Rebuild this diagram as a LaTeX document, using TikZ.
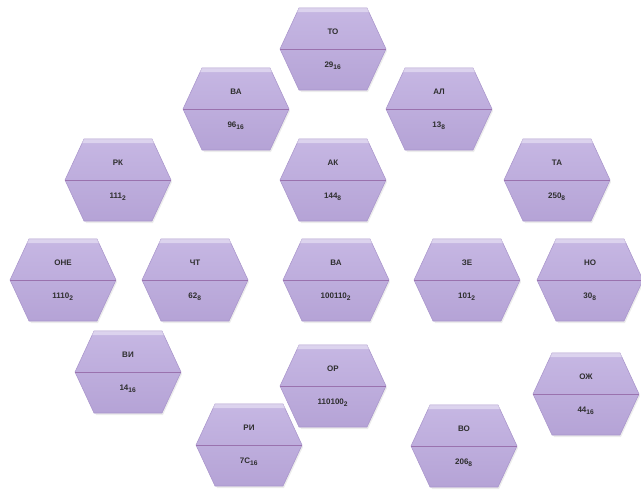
\documentclass[tikz,border=0pt]{standalone}
\usepackage{fontspec}
\setmainfont{Liberation Sans}
\usetikzlibrary{calc}
\definecolor{hexlight}{HTML}{C6B7E3}
\definecolor{hexdark}{HTML}{B5A3D6}
\definecolor{hexline}{HTML}{9A72AE}
\definecolor{hexedge}{HTML}{A995CB}
\definecolor{txt}{HTML}{2E2E2E}
\tikzset{
  hexfill/.style={top color=hexlight, bottom color=hexdark, draw=hexedge, line width=0.4pt},
  hexlbl/.style={font=\bfseries\fontsize{6}{7}\selectfont, text=txt, inner sep=0pt},
  midline/.style={draw=hexline, line width=0.7pt},
}
\newcommand\hexcell[5]{%
  \begin{scope}[shift={(#2,#3)}]
    \fill[black!15, opacity=0.5] (-51,2) -- (-32,43) -- (35,43) -- (54,2) -- (35,-39) -- (-32,-39) -- cycle;
    \path[hexfill] (-53,0) -- (-34,-41) -- (34,-41) -- (53,0) -- (34,41) -- (-34,41) -- cycle;
    \fill[white, opacity=0.4] (-34,-41) -- (34,-41) -- (36,-37) -- (-36,-37) -- cycle;
    \draw[midline] (-53,0) -- (53,0);
    \coordinate (#1) at (0,0);
    \node[hexlbl] (#1-t) at (0,-17) {#4};
    \node[hexlbl] (#1-b) at (0,17) {#5};
  \end{scope}}
\begin{document}
\begin{tikzpicture}[x=0.75pt, y=-0.75pt]
\useasboundingbox (0,0) rectangle (641,489);
\hexcell{to}{333}{49}{ТО}{29\textsubscript{16}}
\hexcell{va1}{236}{109}{ВА}{96\textsubscript{16}}
\hexcell{al}{439}{109}{АЛ}{13\textsubscript{8}}
\hexcell{rk}{118}{180}{РК}{111\textsubscript{2}}
\hexcell{ak}{333}{180}{АК}{144\textsubscript{8}}
\hexcell{ta}{557}{180}{ТА}{250\textsubscript{8}}
\hexcell{one}{63}{280}{ОНЕ}{1110\textsubscript{2}}
\hexcell{cht}{195}{280}{ЧТ}{62\textsubscript{8}}
\hexcell{va2}{336}{280}{ВА}{100110\textsubscript{2}}
\hexcell{ze}{467}{280}{ЗЕ}{101\textsubscript{2}}
\hexcell{no}{590}{280}{НО}{30\textsubscript{8}}
\hexcell{vi}{128}{372}{ВИ}{14\textsubscript{16}}
\hexcell{or}{333}{386}{ОР}{110100\textsubscript{2}}
\hexcell{ozh}{586}{394}{ОЖ}{44\textsubscript{16}}
\hexcell{ri}{249}{445}{РИ}{7C\textsubscript{16}}
\hexcell{vo}{464}{446}{ВО}{206\textsubscript{8}}
\end{tikzpicture}
\end{document}
